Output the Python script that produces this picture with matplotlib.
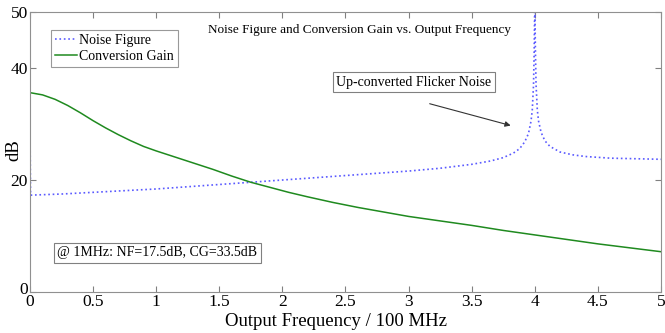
import matplotlib
matplotlib.use("Agg")
import matplotlib.pyplot as plt
from matplotlib.transforms import ScaledTranslation

# Noise Figure (dB) vs output frequency (/100 MHz)
nf_x = [0, 0.005, 0.25, 0.5, 0.75, 1.0, 1.25, 1.5, 1.75, 2.0, 2.25, 2.5, 2.75,
        3.0, 3.25, 3.5, 3.65, 3.75, 3.83, 3.88, 3.92, 3.95, 3.97, 3.98, 3.99,
        3.995, 4.0, 4.005, 4.01, 4.02, 4.03, 4.05, 4.08, 4.12, 4.2, 4.3, 4.4,
        4.6, 4.8, 5.0]
nf_y = [30.7, 17.3, 17.5, 17.8, 18.1, 18.4, 18.8, 19.2, 19.6, 20.0, 20.4, 20.8,
        21.2, 21.6, 22.1, 22.8, 23.4, 24.0, 24.8, 25.6, 26.8, 28.3, 30.5, 32.5,
        37.0, 43.0, 52.0, 43.0, 37.0, 32.5, 30.5, 28.5, 27.0, 26.0, 25.0, 24.5,
        24.2, 23.9, 23.8, 23.7]

# Conversion Gain (dB)
cg_x = [0, 0.1, 0.2, 0.3, 0.4, 0.5, 0.6, 0.7, 0.8, 0.9, 1.0, 1.15, 1.3, 1.45,
        1.6, 1.75, 1.9, 2.05, 2.2, 2.4, 2.6, 2.8, 3.0, 3.25, 3.5, 3.75, 4.0,
        4.25, 4.5, 4.75, 5.0]
cg_y = [35.6, 35.2, 34.4, 33.3, 32.0, 30.6, 29.3, 28.1, 27.0, 26.0, 25.2, 24.1,
        23.0, 21.9, 20.7, 19.6, 18.7, 17.8, 17.0, 16.0, 15.1, 14.3, 13.5, 12.7,
        11.9, 11.0, 10.2, 9.4, 8.6, 7.9, 7.2]

x_ticks = [0, 0.5, 1, 1.5, 2, 2.5, 3, 3.5, 4, 4.5, 5]
x_tick_labels = ["0", "0.5", "1", "1.5", "2", "2.5", "3", "3.5", "4", "4.5", "5"]
y_ticks = [0, 20, 40, 50]

plt.rcParams['font.family'] = ['Liberation Serif', 'DejaVu Serif']

W, H = 665, 333
fig = plt.figure(figsize=(W / 100, H / 100), dpi=100)
ax = fig.add_axes([0.045, 0.123, 0.949, 0.841])

ax.plot(nf_x, nf_y, color='#5a5aff', linestyle=':', linewidth=1.2, label='Noise Figure')
ax.plot(cg_x, cg_y, color='#1f8a1f', linestyle='-', linewidth=1.1, label='Conversion Gain')

ax.set_xlim(0, 5)
ax.set_ylim(0, 50)
ax.set_xticks(x_ticks)
ax.set_xticklabels(x_tick_labels)
ax.set_yticks(y_ticks)
ax.tick_params(direction='in', top=True, right=True, labelsize=12.5, length=4,
               color='#808080', pad=1.5)
for s in ax.spines.values():
    s.set_color('#909090')

# nudge the y "0" label up a little, as in the reference
ylab0 = ax.get_yticklabels()[0]
ylab0.set_transform(ylab0.get_transform() +
                    ScaledTranslation(0, 4 / 100, fig.dpi_scale_trans))

fig.text(336 / W, 1 - 322 / H, 'Output Frequency / 100 MHz', fontsize=13.5,
         ha='center', va='center')
fig.text(14 / W, 1 - 150 / H, 'dB', fontsize=13.5, rotation=90,
         ha='center', va='center')

ax.text(1.41, 46.8, 'Noise Figure and Conversion Gain vs. Output Frequency',
        fontsize=9.5, ha='left', va='center')

leg = ax.legend(loc='upper left', bbox_to_anchor=(0.033, 0.935), fontsize=10,
                frameon=True, fancybox=False, handlelength=1.6, borderpad=0.3,
                labelspacing=0.2, handletextpad=0.15, borderaxespad=0)
leg.get_frame().set_edgecolor('#808080')
leg.get_frame().set_linewidth(0.8)

ax.annotate('', xy=(3.83, 29.6), xytext=(3.146, 33.75),
            arrowprops=dict(arrowstyle='-|>', color='#333333', lw=0.8,
                            mutation_scale=8))
ax.text(3.04, 37.5, 'Up-converted Flicker Noise', fontsize=10, ha='center',
        va='center',
        bbox=dict(boxstyle='square,pad=0.25', fc='white', ec='#808080', lw=0.8))

ax.text(0.215, 7.05, '@ 1MHz: NF=17.5dB, CG=33.5dB', fontsize=10, ha='left',
        va='center',
        bbox=dict(boxstyle='square,pad=0.25', fc='white', ec='#808080', lw=0.8))

fig.savefig('out.png', dpi=100)
